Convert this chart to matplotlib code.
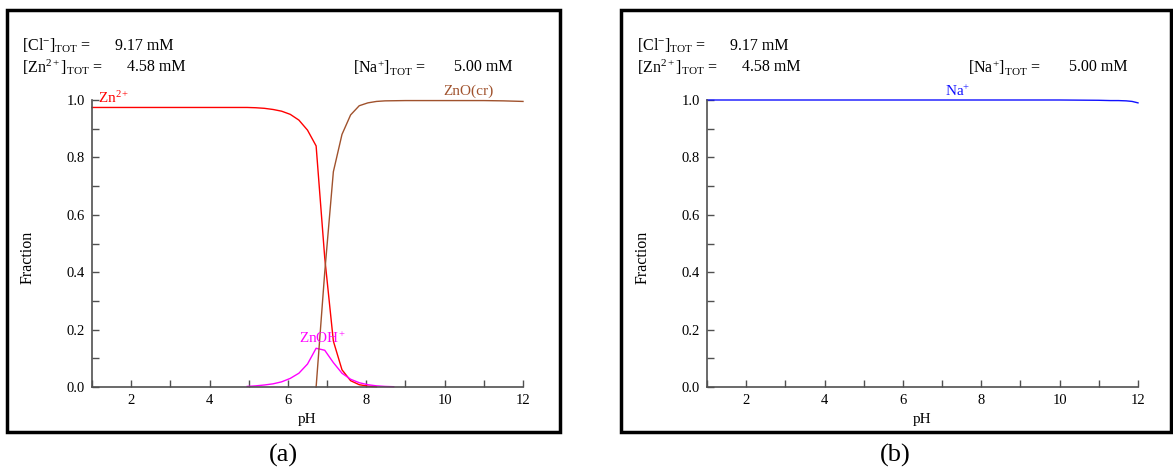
import numpy as np
import matplotlib
matplotlib.use("Agg")
import matplotlib.pyplot as plt
from matplotlib.patches import Rectangle

plt.rcParams['font.family'] = ['Liberation Serif', 'DejaVu Serif']
plt.rcParams['mathtext.fontset'] = 'custom'
plt.rcParams['mathtext.rm'] = 'Liberation Serif'
plt.rcParams['mathtext.it'] = 'Liberation Serif:italic'
plt.rcParams['mathtext.bf'] = 'Liberation Serif:bold'

# ---------------- data ----------------
ph_zn = [1.0, 2.0, 3.0, 4.0, 4.96, 5.18, 5.40, 5.62, 5.84, 6.06, 6.28, 6.50, 6.72,
         6.94, 7.16, 7.38, 7.60, 7.82, 8.04, 8.26]
zn2 = [0.974, 0.974, 0.974, 0.974, 0.974, 0.973, 0.971, 0.967, 0.961, 0.950, 0.930, 0.895, 0.840,
       0.450, 0.160, 0.060, 0.022, 0.008, 0.003, 0.001]

ph_znoh = [4.96, 5.18, 5.40, 5.62, 5.84, 6.06, 6.28, 6.50, 6.72, 6.94, 7.16, 7.38,
           7.60, 7.82, 8.04, 8.26, 8.48, 8.70]
znoh = [0.002, 0.004, 0.007, 0.011, 0.018, 0.030, 0.048, 0.080, 0.135, 0.128, 0.085, 0.048,
        0.027, 0.015, 0.008, 0.004, 0.002, 0.001]

ph_zno = [6.72, 6.94, 7.16, 7.38, 7.60, 7.82, 8.04, 8.26, 8.48, 9.0, 10.0, 11.0, 11.5, 12.0]
zno = [0.0, 0.40, 0.75, 0.88, 0.948, 0.980, 0.990, 0.995, 0.997, 0.998, 0.998, 0.998, 0.997, 0.995]

ph_na = [1.0, 3.0, 5.0, 7.0, 9.0, 10.0, 11.0, 11.3, 11.5, 11.7, 11.85, 12.0]
na = [1.0, 1.0, 1.0, 1.0, 1.0, 1.0, 0.999, 0.998, 0.998, 0.997, 0.995, 0.990]

xticks = list(range(1, 13))
xlabels = ['' if t % 2 else str(t) for t in xticks]
yticks = [round(0.1 * i, 1) for i in range(11)]
ylabels = [f'{t:.1f}' if i % 2 == 0 else '' for i, t in enumerate(yticks)]

header_cl = (r'[Cl$^{-}$]$_{\mathrm{TOT}}$ =', '9.17 mM')
header_zn = (r'[Zn$^{2+}$]$_{\mathrm{TOT}}$ =', '4.58 mM')
header_na = (r'[Na$^{+}$]$_{\mathrm{TOT}}$ =', '5.00 mM')

RED = '#ff0000'
BROWN = '#a0522d'
MAG = '#ff00ff'
BLUE = '#1010ff'
SPINE = '#505050'

W, H = 1173, 470
fig = plt.figure(figsize=(W / 100, H / 100), dpi=100)

def fx(px):
    return px / W

def fy(py):
    return 1 - py / H

def make_axes(left_px):
    ax = fig.add_axes([fx(left_px), fy(387), fx(431), (387 - 100) / H])
    ax.set_xlim(1, 12)
    ax.set_ylim(0, 1)
    for s in ('top', 'right'):
        ax.spines[s].set_visible(False)
    for s in ('left', 'bottom'):
        ax.spines[s].set_color(SPINE)
        ax.spines[s].set_linewidth(1.2)
    ax.set_xticks(xticks)
    ax.set_xticklabels(xlabels)
    ax.set_yticks(yticks)
    ax.set_yticklabels(ylabels)
    ax.tick_params(direction='in', length=5, width=1.0, color=SPINE,
                   labelsize=10.5, pad=5)
    ax.set_xlabel('pH', fontsize=11, labelpad=4)
    ax.set_ylabel('Fraction', fontsize=11.5)
    return ax

def frame(left_px, right_px):
    fig.patches.append(Rectangle((fx(left_px), fy(432)), fx(right_px - left_px),
                                 (432 - 10) / H, transform=fig.transFigure,
                                 fill=False, edgecolor='black', linewidth=2.5))

def headers(axleft):
    fs = 11.5
    fig.text(fx(axleft - 70), fy(46), header_cl[0], fontsize=fs, va='center', ha='left')
    fig.text(fx(axleft + 23), fy(46), header_cl[1], fontsize=fs, va='center', ha='left')
    fig.text(fx(axleft - 70), fy(67), header_zn[0], fontsize=fs, va='center', ha='left')
    fig.text(fx(axleft + 35), fy(67), header_zn[1], fontsize=fs, va='center', ha='left')
    fig.text(fx(axleft + 261), fy(67), header_na[0], fontsize=fs, va='center', ha='left')
    fig.text(fx(axleft + 362), fy(67), header_na[1], fontsize=fs, va='center', ha='left')

# panel a
frame(7, 560)
axa = make_axes(92)
axa.yaxis.set_label_coords((36 - 92) / 431, (387 - 257) / 287)
axa.plot(ph_zn, zn2, color=RED, lw=1.0, clip_on=False)
axa.plot(ph_znoh, znoh, color=MAG, lw=1.0, clip_on=False)
axa.plot(ph_zno, zno, color=BROWN, lw=1.0, clip_on=False)
axa.text(1.15, 1.008, r'Zn$^{2+}$', color=RED, fontsize=11, ha='left', va='center')
axa.text(10.6, 1.03, 'ZnO(cr)', color=BROWN, fontsize=11, ha='center', va='center')
axa.text(6.87, 0.171, r'ZnOH$^{+}$', color=MAG, fontsize=11, ha='center', va='center')
headers(92)
fig.text(fx(283), fy(455), '(a)', fontsize=19, ha='center', va='center')

# panel b
frame(621, 1171)
axb = make_axes(707)
axb.yaxis.set_label_coords((651 - 707) / 431, (387 - 257) / 287)
axb.plot(ph_na, na, color=BLUE, lw=1.0, clip_on=False)
axb.text(7.4, 1.03, r'Na$^{+}$', color=BLUE, fontsize=11, ha='center', va='center')
headers(707)
fig.text(fx(895), fy(455), '(b)', fontsize=19, ha='center', va='center')

fig.savefig('out.png', dpi=100)
